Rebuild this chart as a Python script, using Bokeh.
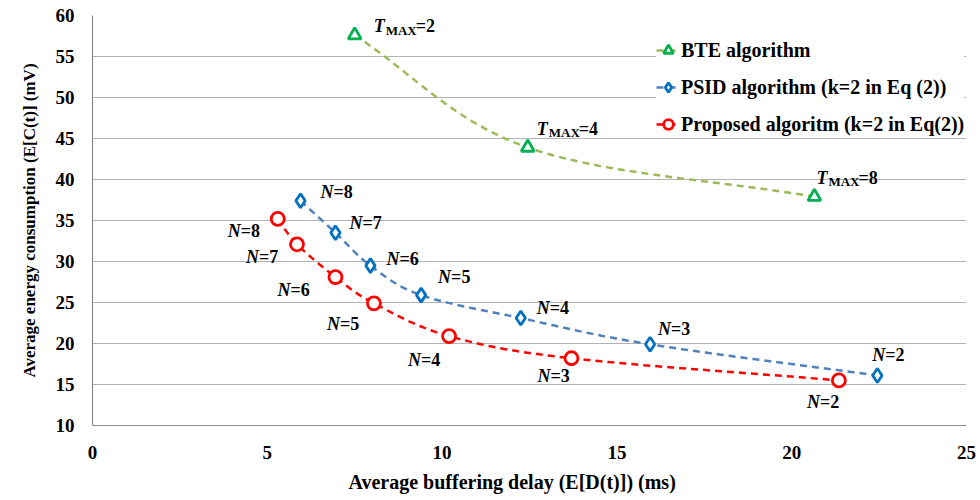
from bokeh.plotting import figure
from bokeh.models import Range1d, Legend, LegendItem, FixedTicker, ColumnDataSource, Title
from bokeh.core.properties import value
from bokeh.embed import file_html
from bokeh.resources import INLINE
import numpy as np

# ---- data ----
bte_x = [7.5, 12.45, 20.65]
bte_y = [57.6, 43.9, 37.9]
bte_labels = ["2", "4", "8"]

psid_x = [5.95, 6.95, 7.95, 9.4, 12.25, 15.95, 22.45]
psid_y = [37.4, 33.5, 29.5, 25.9, 23.1, 19.9, 16.1]
psid_labels = ["8", "7", "6", "5", "4", "3", "2"]

prop_x = [5.3, 5.85, 6.95, 8.05, 10.2, 13.7, 21.35]
prop_y = [35.2, 32.1, 28.1, 24.9, 20.9, 18.2, 15.5]
prop_labels = ["8", "7", "6", "5", "4", "3", "2"]

x_ticks = [0, 5, 10, 15, 20, 25]
y_ticks = [10, 15, 20, 25, 30, 35, 40, 45, 50, 55, 60]

# ---- styles / label offsets (pixels) ----
psid_off = [(20, -9), (14, -10), (16, -7), (17, -18), (16, -10), (8, -15), (-5, -20)]
prop_off = [(-50, 12), (-51, 13), (-58, 13), (-47, 21), (-41, 24), (-34, 18), (-32, 22)]
bte_off = [(19, -9), (9, -19), (2, -19)]

FONT = "Liberation Serif"
W, H = 980, 500
XS = 874 / 25.0   # px per x unit (for smoothing in screen-like space)
YS = 410 / 50.0


def smooth(xs, ys, n=30):
    """Catmull-Rom style smoothing (like spreadsheet 'smoothed line') for drawing."""
    px = np.array(xs) * XS
    py = np.array(ys) * YS
    P = np.column_stack([px, py])
    P = np.vstack([P[0] - (P[1] - P[0]), P, P[-1] + (P[-1] - P[-2])])
    out = []
    for i in range(1, len(P) - 2):
        p0, p1, p2, p3 = P[i - 1], P[i], P[i + 1], P[i + 2]
        c1 = p1 + (p2 - p0) / 6.0
        c2 = p2 - (p3 - p1) / 6.0
        t = np.linspace(0, 1, n)[:, None]
        b = ((1 - t) ** 3) * p1 + 3 * ((1 - t) ** 2) * t * c1 + 3 * (1 - t) * t ** 2 * c2 + t ** 3 * p2
        out.append(b if i == 1 else b[1:])
    B = np.vstack(out)
    return B[:, 0] / XS, B[:, 1] / YS


p = figure(width=W, height=H, output_backend="svg", toolbar_location=None,
           x_range=Range1d(0, 25), y_range=Range1d(10, 60),
           min_border_left=92, min_border_right=14, min_border_top=15, min_border_bottom=75)
p.outline_line_color = None
p.background_fill_color = "white"
p.border_fill_color = "white"

p.xgrid.grid_line_color = None
p.ygrid.grid_line_color = "#b3b3b3"
p.ygrid.grid_line_width = 1.2
p.xaxis.ticker = FixedTicker(ticks=x_ticks)
p.yaxis.ticker = FixedTicker(ticks=y_ticks)
for ax in (p.xaxis[0], p.yaxis[0]):
    ax.axis_line_color = "#8c8c8c"
    ax.axis_line_width = 1.2
    ax.major_tick_line_color = None
    ax.minor_tick_line_color = None
    ax.major_label_text_font = FONT
    ax.major_label_text_font_style = "bold"
    ax.major_label_text_font_size = "19px"
    ax.major_label_text_color = "black"
    ax.axis_label_text_font = FONT
    ax.axis_label_text_font_style = "bold"
    ax.axis_label_text_color = "black"
p.yaxis.axis_label_text_font_size = "17px"
p.xaxis.major_label_standoff = 14
p.yaxis.major_label_standoff = 12
p.yaxis.axis_label = "Average energy consumption (E[C(t)] (mV)"
p.yaxis.axis_label_standoff = 14

# x-axis title (placed as a below title so it can sit slightly left of centre)
xt = Title(text="Average buffering delay (E[D(t)]) (ms)", align="left", offset=256,
           text_font=FONT, text_font_style="bold", text_font_size="20px",
           text_color="black", standoff=15)
p.add_layout(xt, "below")

series = [
    (bte_x, bte_y, "#9bbb59", "#00b050", "triangle", "BTE algorithm"),
    (psid_x, psid_y, "#4f81bd", "#0070c0", "diamond", "PSID algorithm (k=2 in Eq (2))"),
    (prop_x, prop_y, "#ff0000", "#ff0000", "circle", "Proposed algoritm (k=2 in Eq(2))"),
]
items = []
for xs, ys, lc, mc, mk, name in series:
    sx, sy = smooth(xs, ys)
    ln = p.line(sx, sy, line_color=lc, line_width=2.5, line_dash="7 5")
    sz = 13 if mk != "diamond" else 14
    sc = p.scatter(xs, ys, marker=mk, size=sz, line_color=mc, line_width=2.8,
                   fill_color="white")
    items.append(LegendItem(label=name, renderers=[ln, sc]))

legend = Legend(items=items, location=(564, 287),
                label_text_font=FONT, label_text_font_style="bold",
                label_text_font_size="20px", label_text_color="black",
                background_fill_color="white", background_fill_alpha=1.0,
                border_line_color=None, glyph_width=24, glyph_height=28,
                label_height=20, spacing=9, padding=4, margin=0, label_standoff=1)
p.add_layout(legend)


def n_labels(xs, ys, labs, offs):
    dx = [o[0] for o in offs]
    dy = [o[1] for o in offs]
    src = ColumnDataSource(dict(x=xs, y=ys, n=["N"] * len(xs),
                                v=["=" + l for l in labs],
                                dx=dx, dy=dy, dx2=[d + 13 for d in dx]))
    p.text(x="x", y="y", text="n", x_offset="dx", y_offset="dy", source=src,
           text_font=value(FONT), text_font_style="bold italic", text_font_size="18px",
           text_baseline="middle", text_align="left", text_color="black")
    p.text(x="x", y="y", text="v", x_offset="dx2", y_offset="dy", source=src,
           text_font=value(FONT), text_font_style="bold", text_font_size="18px",
           text_baseline="middle", text_align="left", text_color="black")


n_labels(psid_x, psid_y, psid_labels, psid_off)
n_labels(prop_x, prop_y, prop_labels, prop_off)

dx = [o[0] for o in bte_off]
dy = [o[1] for o in bte_off]
src = ColumnDataSource(dict(x=bte_x, y=bte_y, t=["T"] * 3, m=["MAX"] * 3,
                            v=["=" + l for l in bte_labels],
                            dx=dx, dy=dy, dxm=[d + 12 for d in dx], dym=[d + 4 for d in dy],
                            dxv=[d + 42 for d in dx]))
p.text(x="x", y="y", text="t", x_offset="dx", y_offset="dy", source=src,
       text_font=value(FONT), text_font_style="bold italic", text_font_size="18px",
       text_baseline="middle", text_align="left", text_color="black")
p.text(x="x", y="y", text="m", x_offset="dxm", y_offset="dym", source=src,
       text_font=value(FONT), text_font_style="bold", text_font_size="13px",
       text_baseline="middle", text_align="left", text_color="black")
p.text(x="x", y="y", text="v", x_offset="dxv", y_offset="dy", source=src,
       text_font=value(FONT), text_font_style="bold", text_font_size="18px",
       text_baseline="middle", text_align="left", text_color="black")

open("out.html", "w").write(file_html(p, INLINE))
